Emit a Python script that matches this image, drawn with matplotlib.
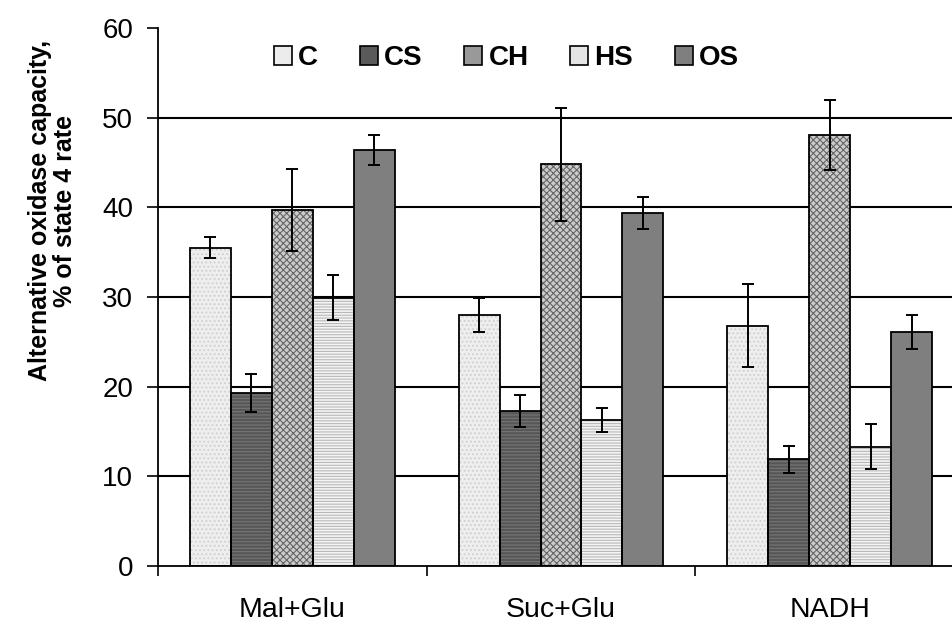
import numpy as np
import matplotlib.pyplot as plt
from matplotlib.patches import Patch

plt.rcParams['font.family'] = ['Liberation Sans', 'DejaVu Sans']
plt.rcParams['hatch.linewidth'] = 0.8

groups = ['Mal+Glu', 'Suc+Glu', 'NADH']
series = ['C', 'CS', 'CH', 'HS', 'OS']

# mean values per substrate, one list per treatment
C = [35.5, 28.0, 26.8]
CS = [19.3, 17.3, 11.9]
CH = [39.7, 44.8, 48.1]
HS = [29.9, 16.3, 13.3]
OS = [46.4, 39.4, 26.1]

C_err = [1.2, 1.9, 4.6]
CS_err = [2.1, 1.8, 1.5]
CH_err = [4.6, 6.3, 3.9]
HS_err = [2.5, 1.3, 2.5]
OS_err = [1.7, 1.8, 1.9]

means = [C, CS, CH, HS, OS]
errs = [C_err, CS_err, CH_err, HS_err, OS_err]

# face colour, hatch colour, hatch pattern, legend swatch colour
styles = [
    ('#eeeeee', '#cfcfcf', '....', '#ececec'),
    ('#575757', '#767676', '-----', '#5a5a5a'),
    ('#cccccc', '#666666', 'xxxxx', '#999999'),
    ('#f4f4f4', '#b8b8b8', '------', '#e4e4e4'),
    ('#7f7f7f', '#7f7f7f', None, '#7f7f7f'),
]

fig = plt.figure(figsize=(9.52, 6.22), dpi=100)
ax = fig.add_axes([0.166, 0.090, 0.8466, 0.865])

x = np.arange(len(groups))
w = 0.1525

for i, (vals, err, st) in enumerate(zip(means, errs, styles)):
    pos = x + (i - 2) * w
    face, hcol, hatch, _ = st
    ax.bar(pos, vals, w, color=face, edgecolor=hcol, hatch=hatch,
           linewidth=0, zorder=2)
    ax.bar(pos, vals, w, fill=False, edgecolor='black', linewidth=1.3,
           zorder=3)
    ax.errorbar(pos, vals, yerr=err, fmt='none', ecolor='black',
                elinewidth=1.4, capsize=4.5, capthick=1.4, zorder=4)

ax.set_xlim(-0.5, 2.5)
ax.set_ylim(0, 60)
ax.set_yticks(np.arange(0, 61, 10))

# horizontal grid, but nothing drawn along the 60 line
for yv in range(10, 60, 10):
    ax.axhline(yv, color='black', linewidth=1.5, zorder=1)

ax.set_xticks([-0.5, 0.5, 1.5, 2.5])
ax.set_xticklabels([])
ax.set_xticks(x, minor=True)
ax.set_xticklabels(groups, minor=True, fontsize=20.5)
ax.tick_params(axis='x', which='major', direction='out', length=7, width=1.2)
ax.tick_params(axis='x', which='minor', length=0, pad=22)
ax.tick_params(axis='y', direction='out', length=8, width=1.2, pad=10,
               labelsize=20)

for side in ['top', 'right']:
    ax.spines[side].set_visible(False)
for side in ['left', 'bottom']:
    ax.spines[side].set_linewidth(1.3)

ax.set_ylabel('Alternative oxidase capacity,\n% of state 4 rate',
              fontsize=18, fontweight='bold', linespacing=1.1)
ax.yaxis.set_label_coords(-0.1, 0.66)

handles = [Patch(facecolor=st[3], edgecolor='black', linewidth=1.2)
           for st in styles]
ax.legend(handles, series, ncol=5, loc='center left',
          bbox_to_anchor=(0.144, 0.944), frameon=False,
          prop={'weight': 'bold', 'size': 20},
          handlelength=0.65, handleheight=0.65, handletextpad=0.22,
          columnspacing=1.5, borderpad=0, borderaxespad=0)

fig.savefig('out.png', dpi=100)
